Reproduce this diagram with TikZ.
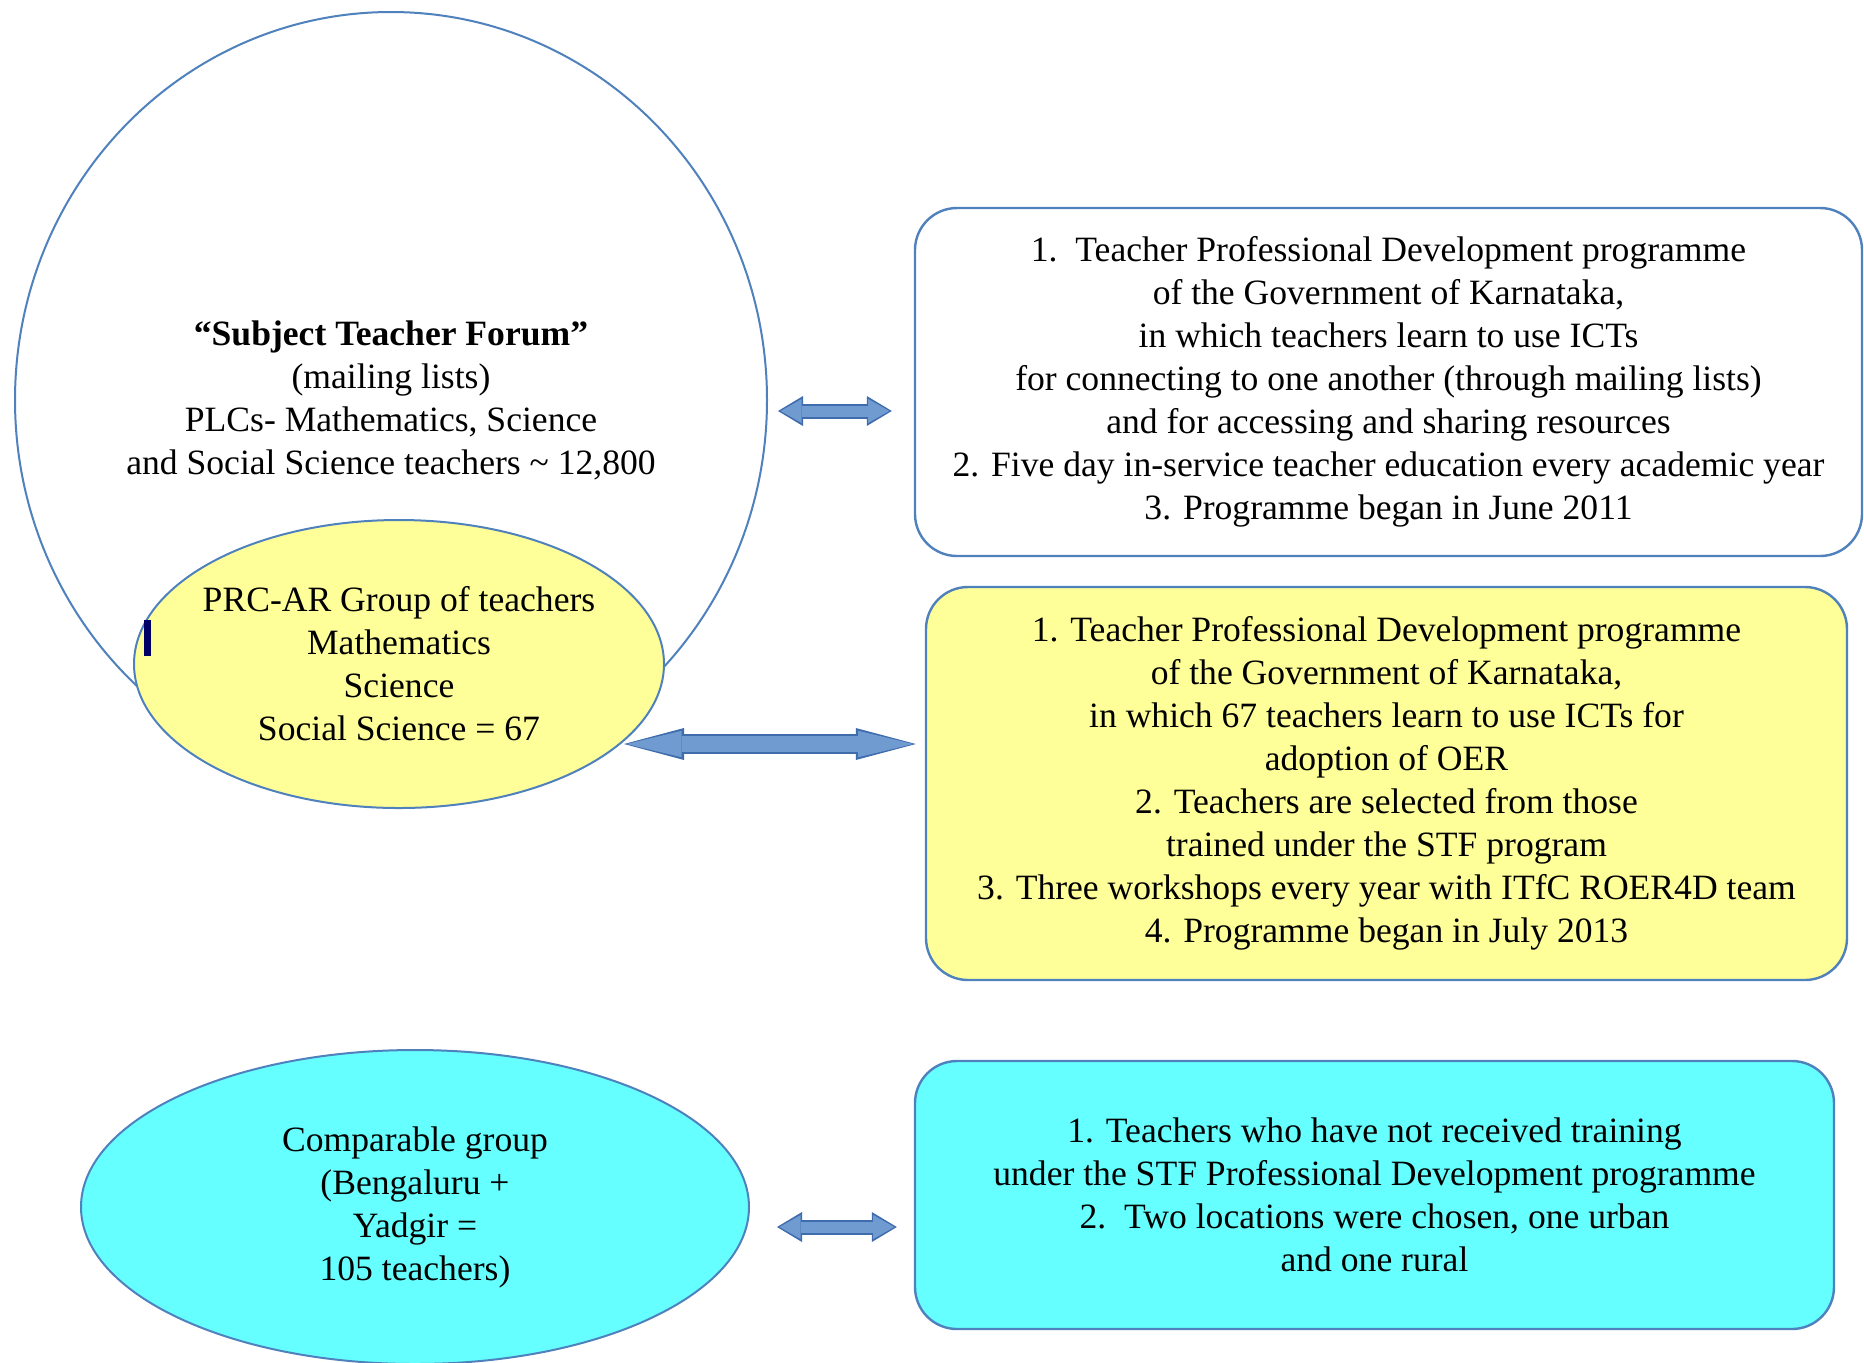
\documentclass[tikz,border=0pt]{standalone}
\usepackage{fontspec}
\setmainfont{Liberation Serif}
\usetikzlibrary{shapes.geometric,arrows.meta,calc}
\definecolor{edgeblue}{HTML}{4F81BD}
\definecolor{yel}{HTML}{FFFF99}
\definecolor{cya}{HTML}{66FFFF}
\definecolor{arrfill}{HTML}{6F9BD1}
\definecolor{arredge}{HTML}{3F6CAD}
\definecolor{navybar}{HTML}{000066}
\tikzset{
  txt/.style={font=\fontsize{17.8pt}{21.5pt}\selectfont, align=center, text=black},
  oval/.style={ellipse, draw=edgeblue, line width=1pt, inner ysep=0pt, inner xsep=-12pt, txt},
  roundbox/.style={rectangle, rounded corners=21pt, draw=edgeblue, line width=1.2pt, inner sep=0pt, txt},
  blockarrow/.style n args={6}{%
    draw=arredge, line width=#1,
    {Triangle[length=#3, width=#2, line width=0pt]}-{Triangle[length=#3, width=#2, line width=0pt]},
    postaction={draw=arrfill, line width=#4, shorten <=1.3pt, shorten >=1.3pt,
      {Triangle[length=#6, width=#5, line width=0pt]}-{Triangle[length=#6, width=#5, line width=0pt]}}
  },
  smallarrow/.style={blockarrow={7.5pt}{15pt}{12.5pt}{5.5pt}{12pt}{10.5pt}},
  longarrow/.style={blockarrow={10pt}{16pt}{30pt}{8pt}{13.2pt}{27.5pt}}
}
\begin{document}
\begin{tikzpicture}[x=0.5pt,y=-0.5pt]
\useasboundingbox (0,0) rectangle (1864,1362);
\fill[white] (0,0) rectangle (1864,1362);

% large white ellipse
\node[oval, fill=white, minimum width=376pt, minimum height=388pt] (stf) at (391,400)
  {\textbf{“Subject Teacher Forum”}\\(mailing lists)\\PLCs- Mathematics, Science\\and Social Science teachers \textasciitilde{} 12,800};

% yellow ellipse (on top)
\node[oval, fill=yel, minimum width=265pt, minimum height=144pt] (prc) at (399,664)
  {PRC-AR Group of teachers\\Mathematics\\Science\\Social Science = 67};

% small dark bar
\fill[navybar] (144,620) rectangle (151,656);

% cyan ellipse
\node[oval, fill=cya, minimum width=334pt, minimum height=157pt] (cmp) at (415,1207)
  {Comparable group\\(Bengaluru +\\Yadgir =\\105 teachers)};

% boxes
\node[roundbox, fill=white, minimum width=473.5pt, minimum height=174pt] (b1) at (1388.5,382)
  {1.\ \ Teacher Professional Development programme\\
   of the Government of Karnataka,\\
   in which teachers learn to use ICTs\\
   for connecting to one another (through mailing lists)\\
   and for accessing and sharing resources\\
   2. Five day in-service teacher education every academic year\\
   3. Programme began in June 2011};

\node[roundbox, fill=yel, minimum width=460.5pt, minimum height=196.5pt] (b2) at (1386.5,783.5)
  {1. Teacher Professional Development programme\\
   of the Government of Karnataka,\\
   in which 67 teachers learn to use ICTs for\\
   adoption of OER\\
   2. Teachers are selected from those\\
   trained under the STF program\\
   3. Three workshops every year with ITfC ROER4D team\\
   4. Programme began in July 2013};

\node[roundbox, fill=cya, minimum width=459.5pt, minimum height=134pt] (b3) at (1374.5,1195)
  {1. Teachers who have not received training\\
   under the STF Professional Development programme\\
   2.\ \ Two locations were chosen, one urban\\
   and one rural};

% connectors
\draw[smallarrow] ($(stf.east)+(10,11)$) -- ($(b1.west)+(-22,29)$);
\draw[longarrow] ($(prc.east)+(-41,80)$) -- ($(b2.west)+(-9,-39.5)$);
\draw[smallarrow] ($(cmp.east)+(27,20)$) -- ($(b3.west)+(-17,32)$);
\end{tikzpicture}
\end{document}
